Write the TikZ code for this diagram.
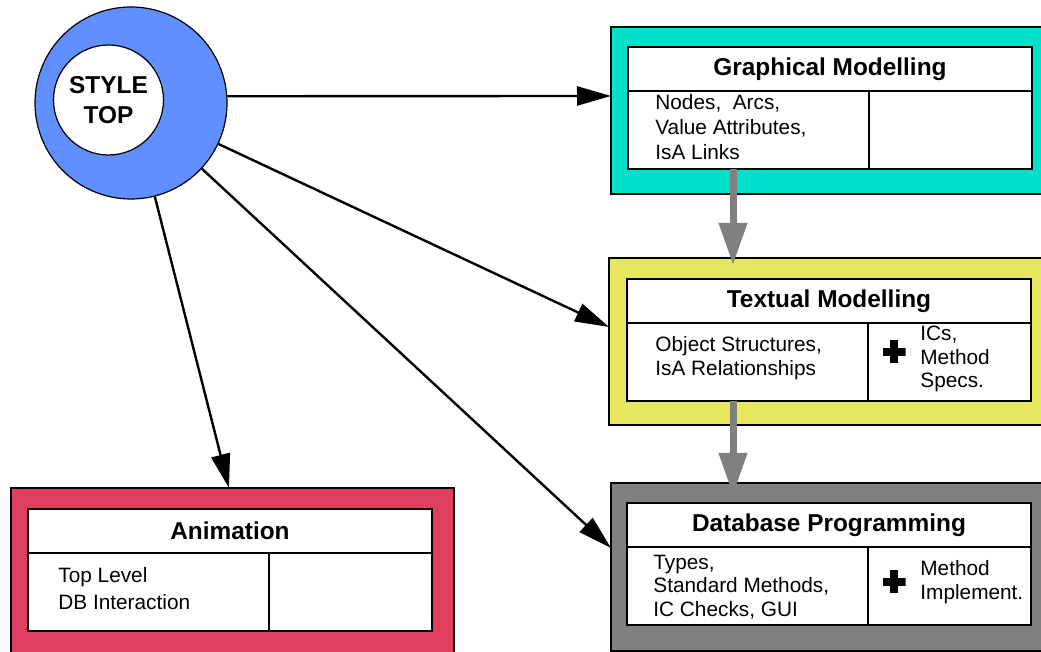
\documentclass[tikz,border=0pt]{standalone}
\usepackage{fontspec}
\setmainfont{Liberation Sans}
\usepackage{tikz}
\usetikzlibrary{calc, arrows.meta}
\definecolor{topblue}{HTML}{6090FF}
\definecolor{graphteal}{HTML}{00E0CC}
\definecolor{textyellow}{HTML}{E8E860}
\definecolor{dbgray}{HTML}{808080}
\definecolor{animred}{HTML}{E04060}
\tikzset{
    frame/.style={draw, line width=0.6pt, anchor=north west, inner sep=0pt, outer sep=0pt},
    cell/.style={draw, fill=white, line width=0.8pt, anchor=north west, inner sep=0pt, outer sep=0pt, minimum height=39pt},
    head/.style={cell, minimum width=202pt, minimum height=22pt, font=\fontsize{12.2}{15}\selectfont\bfseries},
    body/.style={anchor=west, align=left, inner sep=0pt, font=\fontsize{10.4}{11.8}\selectfont},
    plussign/.style={inner sep=0pt, minimum size=11.5pt, path picture={
        \fill (path picture bounding box.center) ++(-5.75pt,-2pt) rectangle ++(11.5pt,4pt);
        \fill (path picture bounding box.center) ++(-2pt,-5.75pt) rectangle ++(4pt,11.5pt);}},
}

\begin{document}
\begin{tikzpicture}[x=0.5pt, y=-0.5pt]
    \useasboundingbox (0,0) rectangle (1041,652);
    \clip (0,0) rectangle (1041,652);
    % frames and tables
    \foreach \n/\fx/\fy/\fw/\fh/\col/\tx/\ty/\hd in {
        graph/611/27/439/167/graphteal/628/47/Graphical Modelling,
        text/609/258/441/167/textyellow/627/279/Textual Modelling,
        db/611/483/439/168/dbgray/627/503/Database Programming,
        anim/11/488/443/172/animred/28/509/Animation} {
        \node[frame, fill=\col, minimum width=\fw*0.5pt, minimum height=\fh*0.5pt] (\n-box) at (\fx,\fy) {};
        \node[head] (\n-head) at (\tx,\ty) {\hd};
        \node[cell, minimum width=120.5pt] (\n-left) at (\n-head.south west) {};
        \node[cell, minimum width=81.5pt] (\n-right) at (\n-left.north east) {};
    }
    % cell texts
    \node[body, font=\fontsize{10.4}{12.4}\selectfont] (graph-items) at (655,127) {Nodes,~~Arcs,\\Value Attributes,\\IsA Links};
    \node[body] (text-items) at (655,358) {Object Structures,\\IsA Relationships};
    \node[body] (db-items) at (653,587) {Types,\\Standard Methods,\\IC Checks, GUI};
    \node[body, font=\fontsize{10.4}{13.5}\selectfont] (anim-items) at (58,589) {Top Level\\DB Interaction};
    \node[plussign] (text-plus) at (894,352) {};
    \node[body] (text-extra) at (920,359) {ICs,\\Method\\Specs.};
    \node[plussign] (db-plus) at (894,582) {};
    \node[body] (db-extra) at (920,582) {Method\\Implement.};
    % style top
    \node[circle, draw, fill=topblue, line width=0.6pt, minimum size=96pt, inner sep=0pt] (top) at (131,103) {};
    \node[circle, draw, fill=white, line width=0.6pt, minimum size=55pt, inner sep=0pt, align=center,
        font=\fontsize{12.2}{15}\selectfont\bfseries] (top-label) at (108.5,100) {STYLE\\TOP};
    % connectors
    \begin{scope}[line width=1.2pt, -{Triangle[length=17pt, width=9.5pt]}]
        \draw (top.4) -- ($(graph-box.north west)!0.413!(graph-box.south west)$);
        \draw (top) -- ($(text-box.north west)!0.413!(text-box.south west)$);
        \draw (top) -- ($(db-box.north west)!0.387!(db-box.south west)$);
        \draw (top) -- ($(anim-box.north west)!0.492!(anim-box.north east)$);
    \end{scope}
    \begin{scope}[draw=dbgray, line width=3.5pt, -{Triangle[length=21pt, width=13.5pt]}]
        \draw ($(graph-left.south west)+(105,0)$) -- ($(text-box.north west)+(124,7)$);
        \draw ($(text-left.south west)+(106,0)$) -- ($(db-box.north west)+(122,12)$);
    \end{scope}
\end{tikzpicture}
\end{document}
